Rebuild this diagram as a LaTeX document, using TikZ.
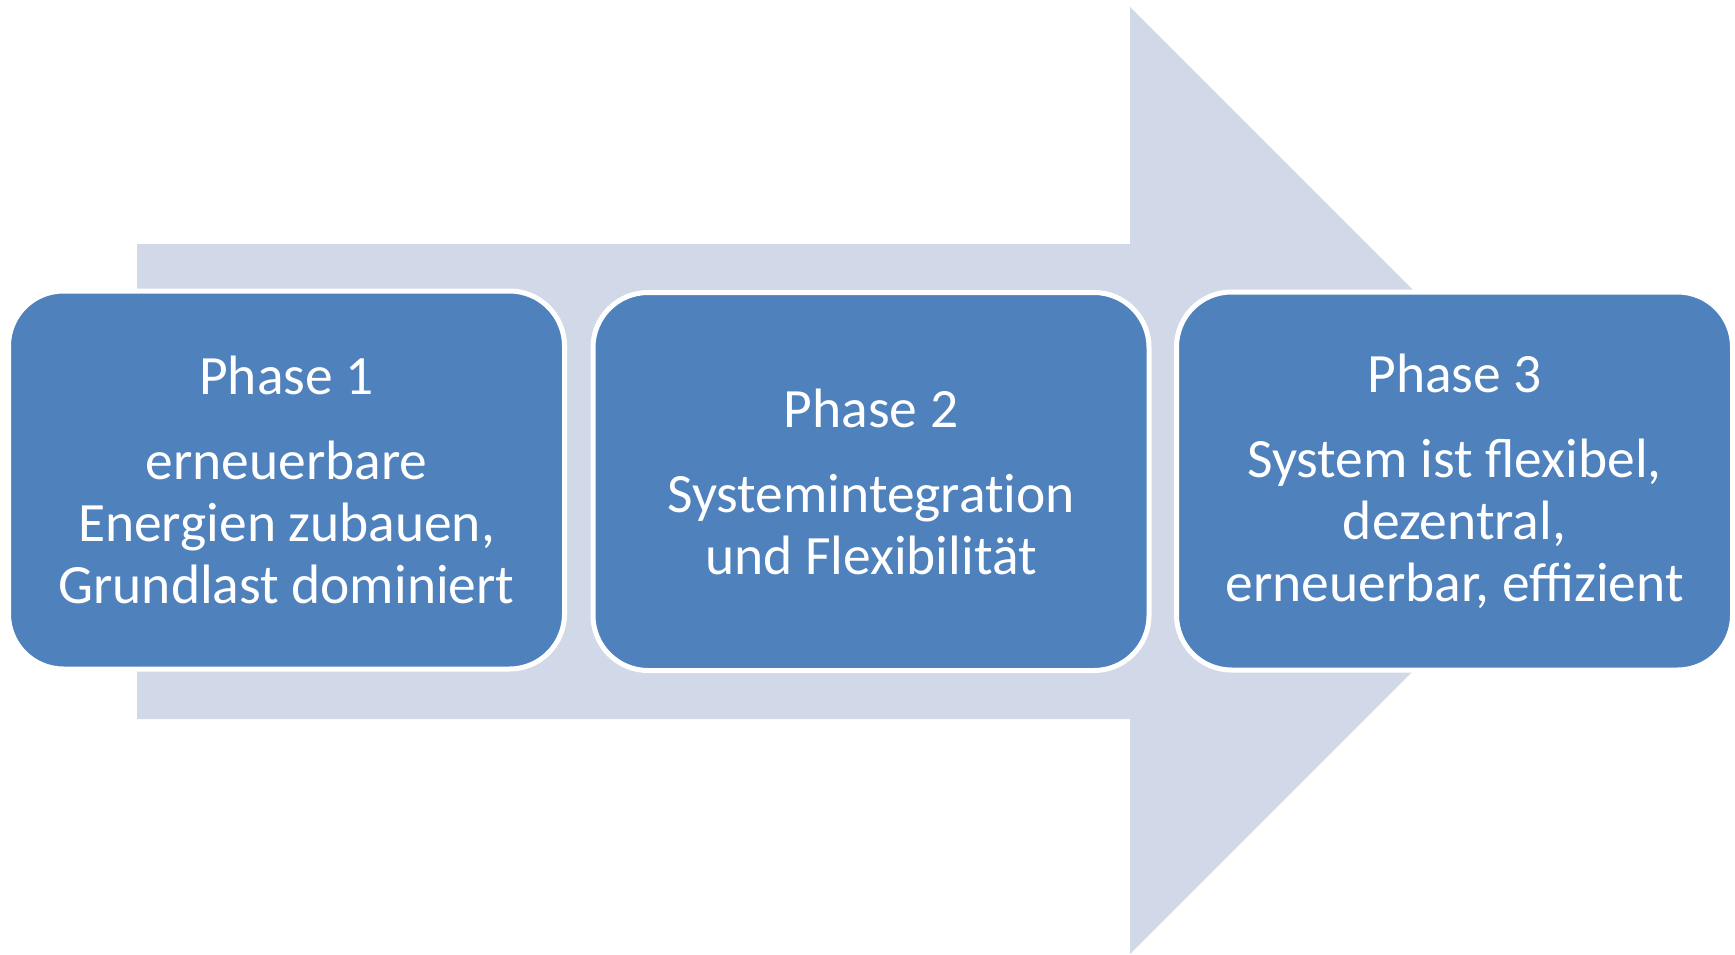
\documentclass[tikz,border=0pt]{standalone}
\usepackage{fontspec}
\setmainfont{Carlito}
\definecolor{arrowc}{HTML}{D1D9E8}
\definecolor{boxc}{HTML}{4F81BD}
\begin{document}
\begin{tikzpicture}[x=1pt,y=-1pt,
  phasebox/.style={draw=white, line width=5pt, fill=boxc, rounded corners=55pt,
    minimum width=556pt, minimum height=378pt, inner sep=0pt, text=white,
    align=center, font=\fontsize{55.5}{62}\selectfont}]
\useasboundingbox (0,0) rectangle (1735,955);
\fill[arrowc] (137,244) -- (1130,244) -- (1130,7) -- (1603.5,480.5) -- (1130,954) -- (1130,719) -- (137,719) -- cycle;
\node[phasebox] (p1) at (286.5,480) {Phase 1\\[23pt]erneuerbare\\Energien zubauen,\\Grundlast dominiert};
\node[phasebox] (p2) at (871,481.5) {Phase 2\\[23pt]Systemintegrat\kern0pt ion\\und Flexibilität};
\node[phasebox] (p3) at (1454.5,481) {Phase 3\\[23pt]System ist flexibel,\\dezentral,\\erneuerbar, effizient};
\end{tikzpicture}
\end{document}
